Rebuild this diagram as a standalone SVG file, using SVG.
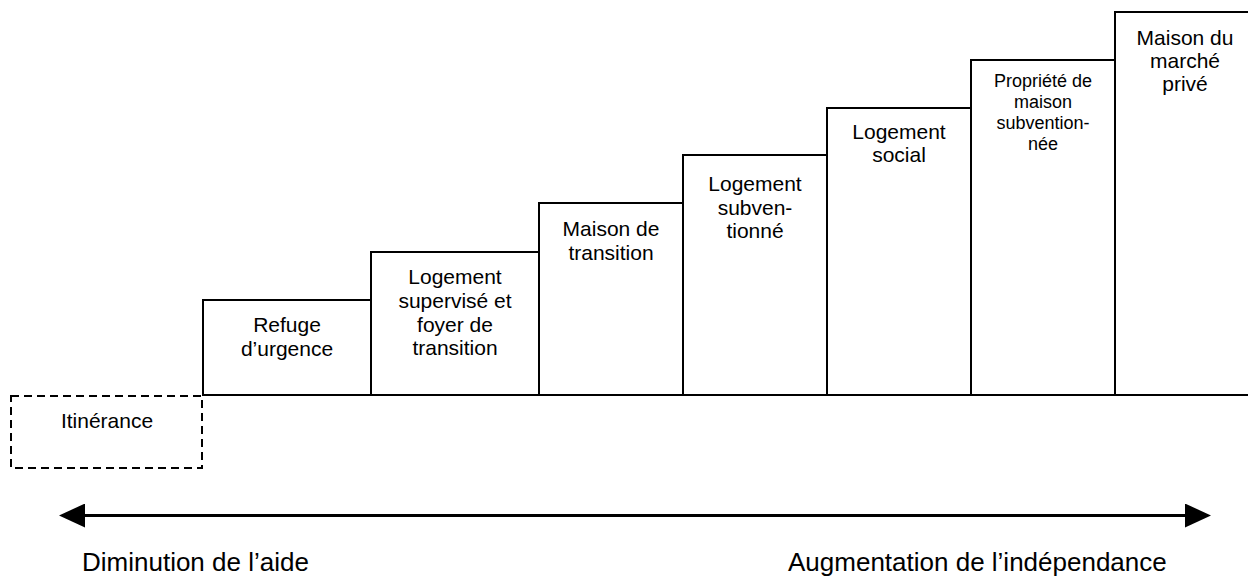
<svg xmlns="http://www.w3.org/2000/svg" width="1248" height="577" viewBox="0 0 1248 577">
<style>
.box{fill:#fff;stroke:#000;stroke-width:2}
.dash{fill:none;stroke:#000;stroke-width:2;stroke-dasharray:8 5}
.t{font-family:"Liberation Sans",Arial,sans-serif;font-size:21px;fill:#000;text-anchor:middle}
.ts{font-family:"Liberation Sans",Arial,sans-serif;font-size:18px;fill:#000;text-anchor:middle}
.tb{font-family:"Liberation Sans",Arial,sans-serif;font-size:26px;fill:#000}
.ln{stroke:#000;stroke-width:3;fill:none}
</style>
<defs>
<marker id="ah" markerUnits="userSpaceOnUse" markerWidth="26" markerHeight="24" refX="2" refY="12" orient="auto-start-reverse" viewBox="0 0 26 24">
<path d="M0,0 L26,12 L0,24 z" fill="#000"/>
</marker>
</defs>
<rect width="1248" height="577" fill="#fff"/>
<g id="itinerance">
<rect class="dash" x="11" y="396" width="191" height="72"/>
<text class="t" x="107" y="428">Itinérance</text>
</g>
<g id="refuge">
<rect class="box" x="203" y="300" width="168" height="95"/>
<text class="t" x="287" y="332">Refuge</text>
<text class="t" x="287" y="356">d’urgence</text>
</g>
<g id="supervise">
<rect class="box" x="371" y="252" width="168" height="143"/>
<text class="t" x="455" y="284">Logement</text>
<text class="t" x="455" y="308">supervisé et</text>
<text class="t" x="455" y="332">foyer de</text>
<text class="t" x="455" y="355">transition</text>
</g>
<g id="maison-transition">
<rect class="box" x="539" y="203" width="144" height="192"/>
<text class="t" x="611" y="236">Maison de</text>
<text class="t" x="611" y="260">transition</text>
</g>
<g id="logement-subventionne">
<rect class="box" x="683" y="155" width="144" height="240"/>
<text class="t" x="755" y="191">Logement</text>
<text class="t" x="755" y="215">subven-</text>
<text class="t" x="755" y="238">tionné</text>
</g>
<g id="logement-social">
<rect class="box" x="827" y="108" width="144" height="287"/>
<text class="t" x="899" y="139">Logement</text>
<text class="t" x="899" y="162">social</text>
</g>
<g id="propriete">
<rect class="box" x="971" y="60" width="144" height="335"/>
<text class="ts" x="1043" y="87">Propriété de</text>
<text class="ts" x="1043" y="108">maison</text>
<text class="ts" x="1043" y="129">subvention-</text>
<text class="ts" x="1043" y="150">née</text>
</g>
<g id="marche-prive">
<rect class="box" x="1115" y="12" width="144" height="383"/>
<text class="t" x="1185" y="45">Maison du</text>
<text class="t" x="1185" y="68">marché</text>
<text class="t" x="1185" y="91">privé</text>
</g>
<g id="connectors">
<line x1="203" y1="395" x2="1248" y2="395" stroke="#000" stroke-width="2"/>
<line class="ln" x1="83" y1="515.5" x2="1187" y2="515.5" marker-start="url(#ah)" marker-end="url(#ah)"/>
</g>
<text class="tb" x="82" y="571">Diminution de l’aide</text>
<text class="tb" x="788" y="571">Augmentation de l’indépendance</text>
</svg>
